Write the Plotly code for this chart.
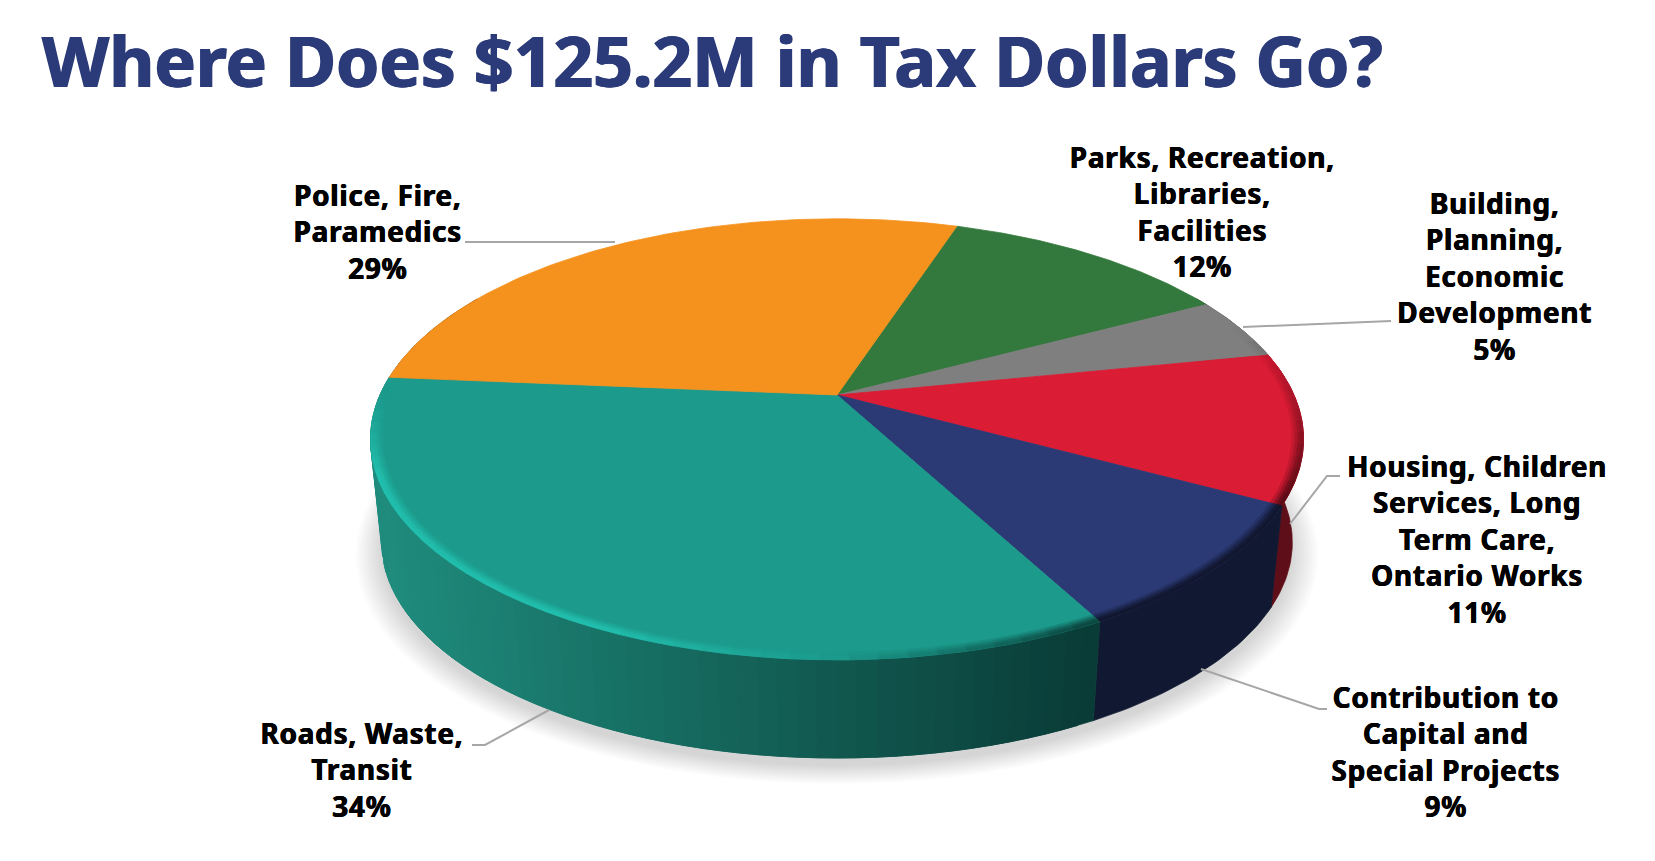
import numpy as np
import plotly.graph_objects as go

# ---- data (clockwise, starting at the Parks slice) ----
categories = [
    "Parks, Recreation,<br>Libraries,<br>Facilities",
    "Building,<br>Planning,<br>Economic<br>Development",
    "Housing, Children<br>Services, Long<br>Term Care,<br>Ontario Works",
    "Contribution to<br>Capital and<br>Special Projects",
    "Roads, Waste,<br>Transit",
    "Police, Fire,<br>Paramedics",
]
values = [12.2, 4.6, 11.0, 9.3, 34.2, 28.7]
title_text = "Where Does $125.2M in Tax Dollars Go?"

# ---- style ----
colors = [(51, 120, 60), (127, 127, 127), (219, 28, 53), (43, 58, 117), (28, 154, 140), (245, 146, 30)]
wall_left = {4: (31, 140, 125)}
wall_right = {4: (10, 60, 55)}
wall_flat = {0: (25, 60, 30), 1: (60, 60, 60), 2: (94, 14, 24), 3: (17, 25, 50), 5: (120, 70, 15)}
label_pos = [(1202, 211), (1494, 276), (1477, 539), (1446, 751), (362, 769), (377, 231)]
leaders = [
    ([465, 615], [242, 242]),
    ([1243, 1391], [327, 321]),
    ([1290, 1327, 1340], [524, 476, 476]),
    ([1201, 1319, 1327], [669, 709, 709]),
    ([549, 485, 472], [710, 745, 745]),
]
start_deg = 18.2
CX, CY, A, B, P = 837, 395, 211.6, 457, 0.201
CY2, A2, B2 = 499, 207, 446


def pt(t_deg, r=1.0, bottom=False):
    t = np.radians(t_deg)
    X, Y = r * np.sin(t), r * np.cos(t)
    w = 1 + P * Y
    if bottom:
        return CX + B2 * X / w, CY2 - A2 * Y / w
    return CX + B * X / w, CY - A * Y / w


def rgb(c):
    return "rgb(%d,%d,%d)" % tuple(int(min(255, max(0, v))) for v in c)


def poly(xs, ys, color):
    return go.Scatter(x=list(xs), y=list(ys), mode="lines", fill="toself", fillcolor=color,
                      line=dict(color=color, width=0.8), hoverinfo="skip", showlegend=False)


def wall_poly(u, v, color):
    ts = np.linspace(u, v, max(2, int(v - u) + 2))
    tx, ty = pt(ts)
    bx, by = pt(ts, 1, True)
    return poly(np.r_[tx, bx[::-1], tx[0]], np.r_[ty, by[::-1], ty[0]], color)


def bevel(t):
    t = t % 360
    return float(np.interp(t, [70, 95, 118, 150, 180, 205, 250, 270, 360],
                           [0, -0.45, -1, -1, 0, 1, 1, 0, 0]))


fig = go.Figure()

# soft shadow
for r in np.linspace(1.055, 1.0, 14):
    ts = np.linspace(0, 360, 181)
    xs, ys = pt(ts, r, True)
    fig.add_trace(go.Scatter(x=xs, y=ys + 8, mode="lines", fill="toself", fillcolor="rgba(0,0,0,0.011)",
                             line=dict(width=0), hoverinfo="skip", showlegend=False))

edges = start_deg + np.concatenate([[0], np.cumsum(values)]) * 3.6

# side wall
for i in range(len(values)):
    lo, hi = max(edges[i], 60), min(edges[i + 1], 300)
    if hi <= lo:
        continue
    if i in wall_left:
        # drawn from the dark end to the light end, each strip overlapping the previous one
        grid = np.linspace(lo, hi, int((hi - lo) / 2) + 1)
        for u, v in zip(grid[:-1], grid[1:]):
            tx0, _ = pt(u)
            f = np.clip((tx0 - 390) / (1100 - 390), 0, 1)
            c = np.array(wall_left[i]) * (1 - f) + np.array(wall_right[i]) * f
            fig.add_trace(wall_poly(u, min(v + 2, hi), rgb(c)))
    else:
        fig.add_trace(wall_poly(lo, hi, rgb(wall_flat[i])))

# top slices
for i in range(len(values)):
    ts = np.linspace(edges[i], edges[i + 1], 80)
    xs, ys = pt(ts)
    fig.add_trace(poly(np.r_[CX, xs, CX], np.r_[CY, ys, CY], rgb(colors[i])))

# bevel along the front rim
for r0, r1, k in [(0.976, 0.982, 0.25), (0.982, 0.988, 0.55), (0.988, 0.994, 0.85), (0.994, 1.0, 1.0)]:
    for i in range(len(values)):
        lo, hi = max(edges[i], 70), min(edges[i + 1], 272)
        if hi <= lo:
            continue
        grid = np.linspace(lo, hi, max(2, int((hi - lo) / 3)) + 1)
        for u, v in zip(grid[:-1], grid[1:]):
            h = bevel((u + v) / 2) * k
            f = 1 + 0.24 * h if h > 0 else 1 + 0.6 * h
            c = np.array(colors[i]) * f
            x0, y0 = pt(u, r0)
            x1, y1 = pt(v, r0)
            x2, y2 = pt(v, r1)
            x3, y3 = pt(u, r1)
            fig.add_trace(poly([x0, x1, x2, x3, x0], [y0, y1, y2, y3, y0], rgb(c)))

# leader lines
for lx, ly in leaders:
    fig.add_trace(go.Scatter(x=lx, y=ly, mode="lines", line=dict(color="#A6A6A6", width=2),
                             hoverinfo="skip", showlegend=False))

annotations = [dict(x=40, y=60, xref="x", yref="y", text="<b>%s</b>" % title_text, showarrow=False,
                    xanchor="left", yanchor="middle",
                    font=dict(family="Noto Sans", size=69.5, color="#2B3A78",
                              shadow="0.8px 0 0 #2B3A78, -0.8px 0 0 #2B3A78"))]
for name, val, (lx, ly) in zip(categories, values, label_pos):
    annotations.append(dict(x=lx, y=ly, xref="x", yref="y", text="<b>%s<br>%.0f%%</b>" % (name, val),
                            showarrow=False, xanchor="center", yanchor="middle", align="center",
                            font=dict(family="Noto Sans", size=28, color="#000000",
                                      shadow="0.4px 0 0 #000, -0.4px 0 0 #000")))

fig.update_layout(
    width=1655, height=861, margin=dict(l=0, r=0, t=0, b=0), showlegend=False,
    paper_bgcolor="white", plot_bgcolor="white", annotations=annotations,
    xaxis=dict(range=[0, 1655], visible=False, fixedrange=True),
    yaxis=dict(range=[861, 0], visible=False, fixedrange=True),
)
spacing_js = (
    "document.body.style.margin='0';document.body.style.overflow='hidden';"
    "function sp(){document.querySelectorAll('.annotation-text').forEach(function(e,i){"
    "if(i>0){e.style.letterSpacing='0.7px';}});}"
    "sp();setTimeout(sp,50);"
)
fig.write_html("out.html", config=dict(displayModeBar=False), post_script=spacing_js)
